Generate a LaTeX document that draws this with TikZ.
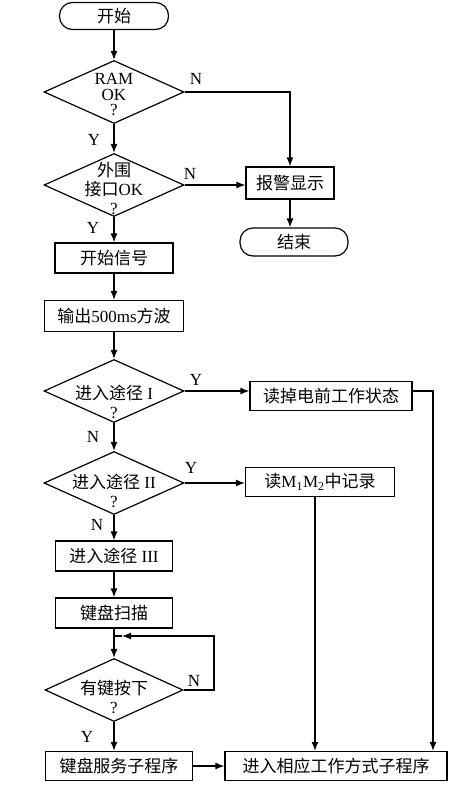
\documentclass[tikz,border=0pt]{standalone}
\usepackage{fontspec}
\setmainfont{Liberation Serif}
\newfontfamily\cjk{Noto Sans CJK SC}
\usetikzlibrary{shapes.geometric,arrows.meta}
\begin{document}
\begin{tikzpicture}[x=1pt,y=-1pt,line width=1.2pt,font=\fontsize{17}{19}\selectfont,
 box/.style={draw,inner sep=0pt,minimum height=30pt},
 term/.style={draw,rounded corners=13pt,inner sep=0pt,minimum height=27pt},
 dec/.style={draw,diamond,inner sep=0pt,minimum width=140pt,minimum height=63pt},
 txt/.style={align=center,inner sep=0pt},
 flow/.style={-{Latex[length=9pt,width=7pt]}}]
\useasboundingbox (0,0) rectangle (472,785);
\node[term,minimum width=109pt] (start) at (114,16) {\cjk 开始};
\node[dec] (ram) at (114,92) {};
\node[txt,font=\fontsize{17}{15.5}\selectfont] (ramt) at (114,95) {RAM\\OK\\?};
\node[dec] (ext) at (114,185) {};
\node[txt] (extt) at (114,188) {{\cjk 外围}\\{\cjk 接口}OK\\?};
\node[box,minimum width=88pt,minimum height=32pt] (alarm) at (290,183) {\cjk 报警显示};
\node[term,minimum width=108pt,minimum height=28pt] (stop) at (294,242) {\cjk 结束};
\node[box,minimum width=118pt] (sig) at (114,258) {\cjk 开始信号};
\node[box,minimum width=139pt,minimum height=31pt] (wave) at (114,316) {{\cjk 输出}500ms{\cjk 方波}};
\node[dec] (way1) at (114,391) {};
\node[txt] (way1t) at (114,402) {{\cjk 进入途径} I\\?};
\node[box,minimum width=162pt,minimum height=29pt] (read1) at (331,396) {\cjk 读掉电前工作状态};
\node[dec] (way2) at (114,483) {};
\node[txt] (way2t) at (114,491) {{\cjk 进入途径} II\\?};
\node[box,minimum width=149pt,minimum height=29pt] (read2) at (320,482) {{\cjk 读}M\textsubscript{1}M\textsubscript{2}{\cjk 中记录}};
\node[box,minimum width=117pt] (way3) at (114,556) {{\cjk 进入途径} III};
\node[box,minimum width=117pt] (scan) at (114,613) {\cjk 键盘扫描};
\node[dec,minimum width=138pt] (key) at (114,690) {};
\node[txt] (keyt) at (114,697) {{\cjk 有键按下}\\?};
\node[box,minimum width=147pt,minimum height=29pt] (serv) at (119,766) {\cjk 键盘服务子程序};
\node[box,minimum width=222pt,minimum height=29pt] (mode) at (336,766) {\cjk 进入相应工作方式子程序};
\coordinate (c1) at (433,391);
\coordinate (loopR) at (214,636);
\coordinate (loopA) at (122,636);
\foreach \t/\x/\y/\n in {N/196/79/ramN,Y/94/140/ramY,N/190/174/extN,Y/93/228/extY,Y/196/380/w1Y,N/93/437/w1N,Y/191/468/w2Y,N/97/525/w2N,N/194/681/keyN,Y/87/737/keyY}{\node (\n) at (\x,\y) {\t};}
\foreach \a/\b in {start/ram,ram/ext,ext/sig,sig/wave,wave/way1,way1/way2,way2/way3,way3/scan,scan/key,serv/mode}{\draw[flow] (\a) -- (\b);}
\draw[flow] (ram.east) -| (alarm.north);
\draw[flow] (ext.east) -- (ext.east -| alarm.west);
\draw[flow] (alarm) -- (alarm |- stop.north);
\draw[flow] (way1.east) -- (way1.east -| read1.west);
\draw[flow] (read1.east |- way1) -- (c1) -- (c1 |- mode.north);
\draw[flow] (way2.east) -- (way2.east -| read2.west);
\draw[flow] ([xshift=-5pt]read2.south) -- ([xshift=-5pt]read2.south |- mode.north);
\draw[flow] (key.south) -- (key.south |- serv.north);
\draw[flow] (key.east) -| (loopR) -- (loopA);
\draw (loopA) -- (scan.south |- loopA);
\end{tikzpicture}
\end{document}
